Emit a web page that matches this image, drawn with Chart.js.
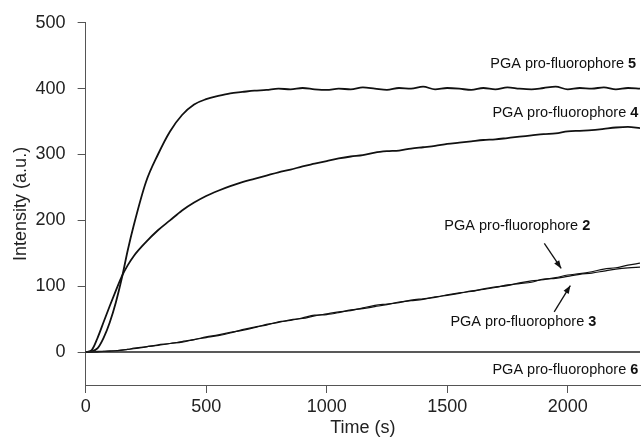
<!DOCTYPE html>
<html>
<head>
<meta charset="utf-8">
<script src="https://cdn.jsdelivr.net/npm/chart.js@4.4.0/dist/chart.umd.min.js"></script>
<style>
  html, body { margin: 0; padding: 0; background: #fff; }
  #wrap { width: 642px; height: 437px; }
</style>
</head>
<body>
<div id="wrap"><canvas id="c" width="642" height="437"></canvas></div>
<script>
// Time points (s)
const times = [0,25,50,75,100,125,150,175,200,250,300,350,400,450,500,550,600,650,700,750,800,850,900,950,1000,1050,1100,1150,1200,1250,1300,1350,1400,1450,1500,1550,1600,1650,1700,1750,1800,1850,1900,1950,2000,2050,2100,2150,2200,2250,2300];

// Intensity (a.u.)
const pf5 = [0,1,6,22,45,75,112,155,193,258,300,335,360,376,384,389,393,395,397,398,400,399,401,399,398,400,399,402,400,398,401,400,403,399,401,400,398,401,399,402,400,399,401,403,399,401,400,402,399,401,400];
const pf4 = [0,3,22,46,70,93,115,132,146,167,185,200,215,227,237,245,252,258,263,268,273,277,282,286,290,294,297,299,303,305,306,309,311,313,316,318,320,322,323,325,327,329,331,332,335,336,337,339,341,342,340];
const pf2 = [0,0,1,1,2,2,3,4,6,8,11,13,16,19,23,26,30,33,37,42,45,49,51,55,58,61,63,67,71,73,75,79,81,83,87,90,92,96,99,101,105,108,110,113,117,119,122,126,128,132,135];
const pf3 = [0,0,0,1,1,2,3,4,5,8,10,13,15,19,22,25,29,34,38,41,46,48,52,56,57,60,64,66,69,72,76,78,80,84,86,89,93,95,98,102,104,106,111,112,115,118,120,123,126,128,129];
const pf6Times = [0, 2300];
const pf6 = [0, 0];

// Tick labels
const xTicks = [0, 500, 1000, 1500, 2000];
const yTicks = [0, 100, 200, 300, 400, 500];

// Annotation labels (data coordinates)
const labels = [
  { text: 'PGA pro-fluorophore ', num: '5', x: 2284, y: 437, align: 'right' },
  { text: 'PGA pro-fluorophore ', num: '4', x: 2293, y: 363, align: 'right' },
  { text: 'PGA pro-fluorophore ', num: '2', x: 1791, y: 192, align: 'center' },
  { text: 'PGA pro-fluorophore ', num: '3', x: 1816, y: 46, align: 'center' },
  { text: 'PGA pro-fluorophore ', num: '6', x: 2293, y: -27, align: 'right' }
];
const arrows = [
  { x1: 1903, y1: 165, x2: 1973, y2: 127 },
  { x1: 1944, y1: 61, x2: 2011, y2: 101 }
];

function pts(xs, ys) { return xs.map((x, i) => ({ x: x, y: ys[i] })); }

const annotPlugin = {
  id: 'annot',
  afterDatasetsDraw(chart) {
    const ctx = chart.ctx;
    const xs = chart.scales.x, ys = chart.scales.y;
    ctx.save();
    ctx.fillStyle = '#111';
    ctx.textBaseline = 'middle';
    const normal = '14.5px "Liberation Sans", Arial, sans-serif';
    const bold = 'bold 14.5px "Liberation Sans", Arial, sans-serif';
    labels.forEach(l => {
      ctx.font = normal;
      const w1 = ctx.measureText(l.text).width;
      ctx.font = bold;
      const w2 = ctx.measureText(l.num).width;
      const tw = w1 + w2;
      const px = xs.getPixelForValue(l.x), py = ys.getPixelForValue(l.y);
      let left = px;
      if (l.align === 'right') left = px - tw;
      else if (l.align === 'center') left = px - tw / 2;
      ctx.textAlign = 'left';
      ctx.font = normal;
      ctx.fillText(l.text, left, py);
      ctx.font = bold;
      ctx.fillText(l.num, left + w1, py);
    });
    ctx.strokeStyle = '#111';
    ctx.lineWidth = 1.3;
    arrows.forEach(a => {
      const x1 = xs.getPixelForValue(a.x1), y1 = ys.getPixelForValue(a.y1);
      const x2 = xs.getPixelForValue(a.x2), y2 = ys.getPixelForValue(a.y2);
      ctx.beginPath(); ctx.moveTo(x1, y1); ctx.lineTo(x2, y2); ctx.stroke();
      const ang = Math.atan2(y2 - y1, x2 - x1);
      const hl = 8, hw = 3;
      ctx.beginPath();
      ctx.moveTo(x2, y2);
      ctx.lineTo(x2 - hl * Math.cos(ang) + hw * Math.sin(ang), y2 - hl * Math.sin(ang) - hw * Math.cos(ang));
      ctx.lineTo(x2 - hl * Math.cos(ang) - hw * Math.sin(ang), y2 - hl * Math.sin(ang) + hw * Math.cos(ang));
      ctx.closePath(); ctx.fill();
    });
    ctx.restore();
  }
};

const lineBase = { fill: false, pointRadius: 0, borderColor: '#111', cubicInterpolationMode: 'monotone' };
const fam = '"Liberation Sans", Arial, sans-serif';

new Chart(document.getElementById('c'), {
  type: 'line',
  data: {
    datasets: [
      Object.assign({ label: '6', data: pts(pf6Times, pf6), borderWidth: 1.5 }, lineBase, { borderColor: '#222' }),
      Object.assign({ label: '2', data: pts(times, pf2), borderWidth: 1.2 }, lineBase),
      Object.assign({ label: '3', data: pts(times, pf3), borderWidth: 1.2 }, lineBase),
      Object.assign({ label: '4', data: pts(times, pf4), borderWidth: 1.8 }, lineBase),
      Object.assign({ label: '5', data: pts(times, pf5), borderWidth: 1.8 }, lineBase)
    ]
  },
  options: {
    responsive: false,
    animation: false,
    layout: { padding: { top: 13, right: 2, left: 1, bottom: 0 } },
    plugins: { legend: { display: false }, tooltip: { enabled: false } },
    scales: {
      x: {
        type: 'linear', min: 0, max: 2300,
        afterBuildTicks: s => { s.ticks = xTicks.map(v => ({ value: v })); },
        grid: { drawOnChartArea: false, drawTicks: true, tickLength: 8, color: '#555' },
        border: { color: '#555', width: 1 },
        ticks: { color: '#222', font: { size: 18, family: fam, lineHeight: 1.0 }, padding: 5, maxRotation: 0, callback: v => String(v) },
        title: { display: true, text: 'Time (s)', color: '#222', font: { size: 18, family: fam, lineHeight: 1.0 }, padding: { top: -2, bottom: 0 } }
      },
      y: {
        type: 'linear', min: -50, max: 500,
        afterBuildTicks: s => { s.ticks = yTicks.map(v => ({ value: v })); },
        grid: { drawOnChartArea: false, drawTicks: true, tickLength: 8, color: '#555' },
        border: { color: '#555', width: 1 },
        ticks: { color: '#222', font: { size: 18, family: fam }, padding: 12, callback: v => String(v) },
        title: { display: true, text: 'Intensity (a.u.)', color: '#222', font: { size: 18, family: fam }, padding: { top: 9, bottom: -8 } }
      }
    }
  },
  plugins: [annotPlugin]
});
</script>
</body>
</html>
